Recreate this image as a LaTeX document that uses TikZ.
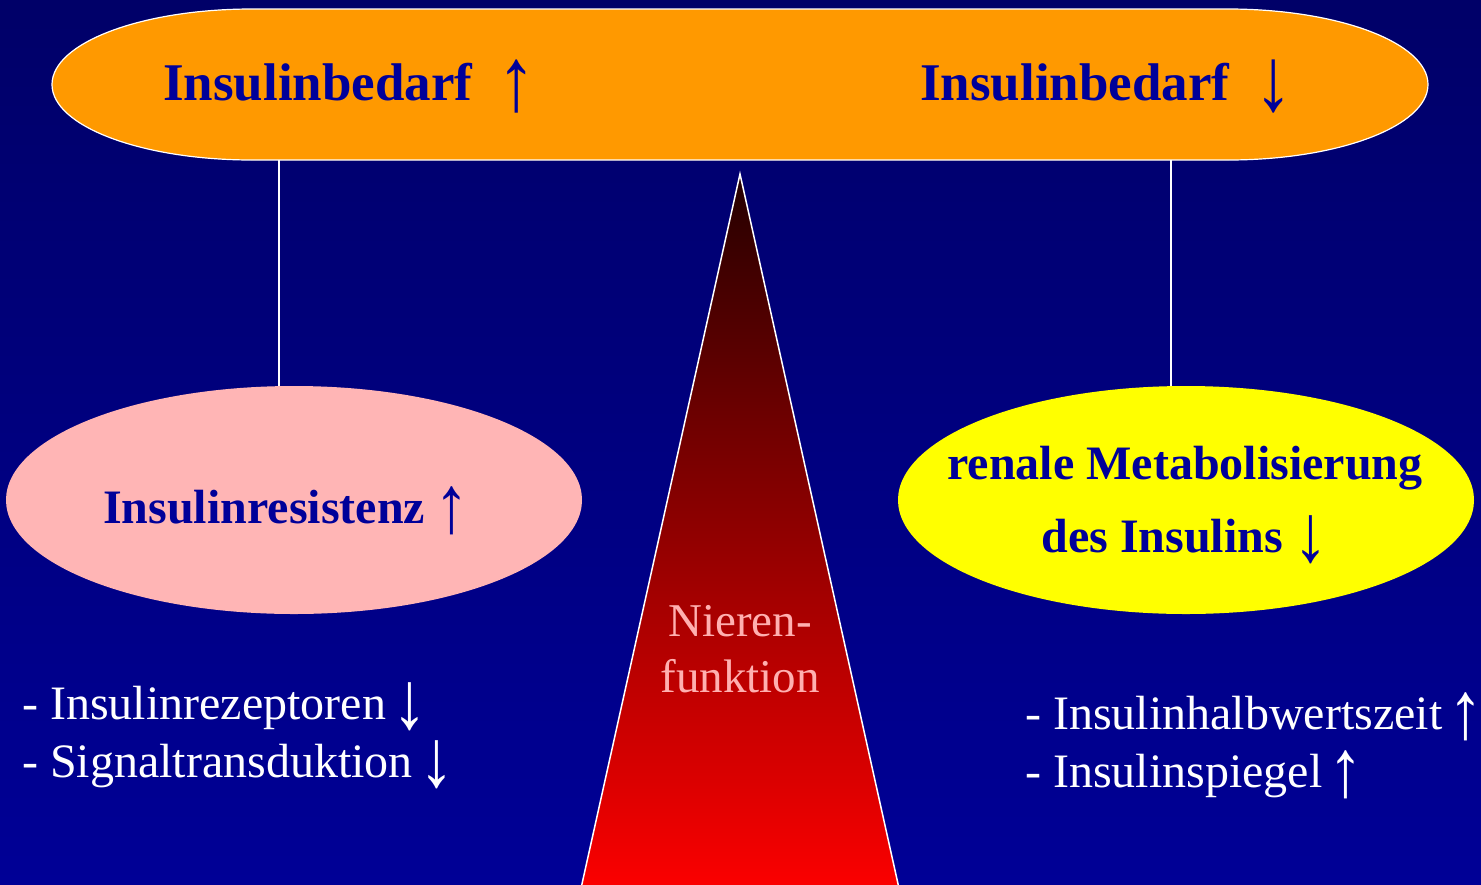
\documentclass[tikz,border=0pt]{standalone}
\usepackage{fontspec}
\setmainfont{Liberation Serif}
\usetikzlibrary{shapes.geometric}
\definecolor{bgtop}{RGB}{0,0,104}
\definecolor{bgbot}{RGB}{0,0,150}
\definecolor{txtblue}{RGB}{0,0,153}
\definecolor{orangef}{RGB}{255,153,0}
\definecolor{pinkf}{RGB}{255,181,181}
\definecolor{yellowf}{RGB}{255,255,0}
\definecolor{nierentxt}{RGB}{255,176,176}
\definecolor{tritop}{RGB}{36,0,0}
\newcommand{\arrowup}{\raisebox{-0.19em}{\scalebox{1.45}[1.7]{\mdseries ↑}}}
\newcommand{\arrowdown}{\raisebox{-0.19em}{\scalebox{1.45}[1.7]{\mdseries ↓}}}
\begin{document}
\begin{tikzpicture}[x=1pt,y=-1pt,
  head/.style={font=\fontsize{53}{60}\selectfont\bfseries, text=txtblue, inner sep=0pt, anchor=base west},
  boldlbl/.style={font=\fontsize{48}{73}\selectfont\bfseries, text=txtblue, inner sep=0pt},
  plain/.style={font=\fontsize{48}{57.5}\selectfont, text=white, inner sep=0pt, align=left, anchor=base west},
  blob/.style={ellipse, inner sep=0pt, minimum width=576pt, minimum height=228pt},
  link/.style={draw=white, line width=1.2pt}]
\useasboundingbox (0,0) rectangle (1481,884);
\shade[top color=bgtop, bottom color=bgbot] (0,0) rectangle (1481,884);
% top banner
\draw[fill=orangef, draw=white, line width=1.2pt] (252,9) -- (1228,9)
  arc[start angle=-90, end angle=90, x radius=200, y radius=75.5] -- (252,160)
  arc[start angle=90, end angle=270, x radius=200, y radius=75.5] -- cycle;
\node[minimum width=1376pt, minimum height=151pt, inner sep=0pt] (top) at (740,84.5) {};
\node[head] (needup) at (163,100) {Insulinbedarf\hspace{0.47em}\arrowup};
\node[head] (needdown) at (920,100) {Insulinbedarf\hspace{0.47em}\arrowdown};
% triangle
\shade[top color=tritop, bottom color=red] (740,174) -- (901.6,900) -- (578.4,900) -- cycle;
\draw[white, line width=1.5pt] (578.4,900) -- (740,174) -- (901.6,900);
\node[font=\fontsize{47}{56}\selectfont, text=nierentxt, align=center, inner sep=0pt, anchor=base] (niere) at (740,692) {Nieren-\\funktion};
% ellipses
\node[blob, fill=pinkf] (resist) at (294,500) {};
\node[boldlbl, anchor=base west] (resisttxt) at (103,523) {Insulinresistenz\hspace{0.2em}\arrowup};
\node[blob, fill=yellowf] (renal) at (1186,500) {};
\node[boldlbl, align=center, anchor=base] (renaltxt) at (1185,552) {renale Metabolisierung\\des Insulins\hspace{0.22em}\arrowdown};
% connectors
\coordinate (lx) at (279,0);
\coordinate (rx) at (1171,0);
\draw[link] (top.south -| lx) -- (resist.north -| lx);
\draw[link] (top.south -| rx) -- (renal.north -| rx);
% lists
\node[plain] (leftlist) at (22,777) {- Insulinrezeptoren\hspace{0.13em}\arrowdown\\- Signaltransduktion\hspace{0.13em}\arrowdown};
\node[plain] (rightlist) at (1025,787) {- Insulinhalbwertszeit\hspace{0.12em}\arrowup\\- Insulinspiegel\hspace{0.12em}\arrowup};
\end{tikzpicture}
\end{document}
